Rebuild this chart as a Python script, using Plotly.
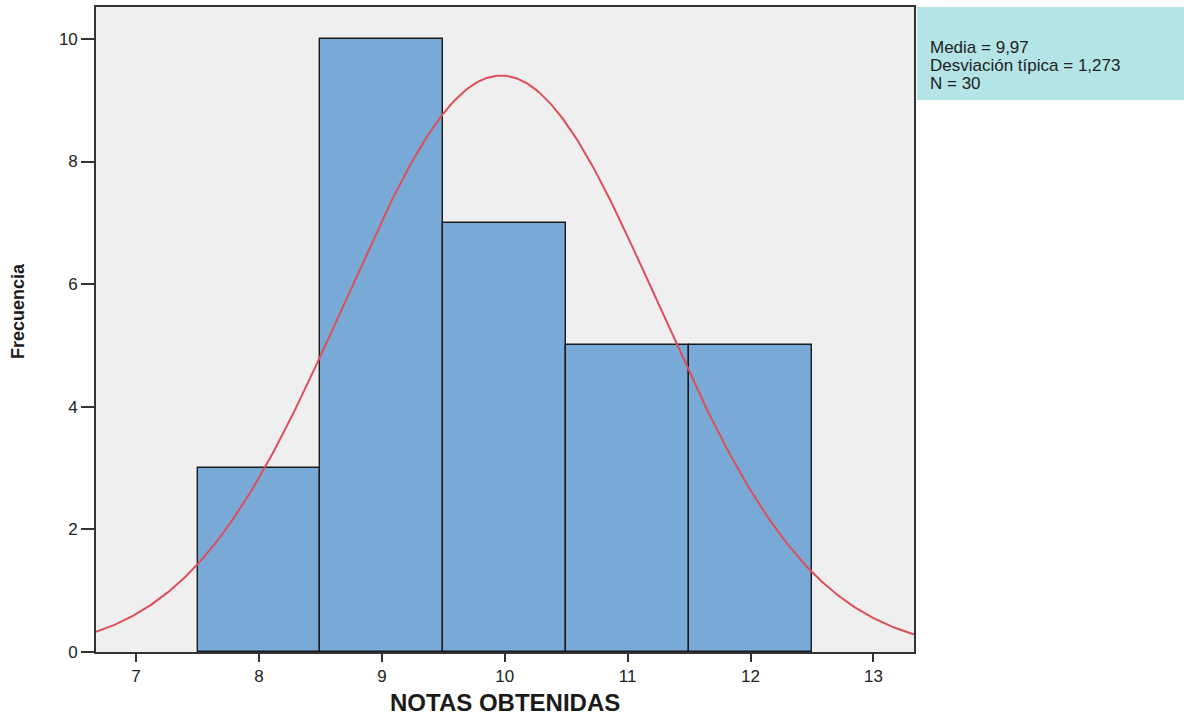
import numpy as np
import plotly.graph_objects as go

# Data
bin_centers = [8, 9, 10, 11, 12]
frequencies = [3, 10, 7, 5, 5]
mean_val = 9.97
std_val = 1.273
n_val = 30
x_ticks = [7, 8, 9, 10, 11, 12, 13]
y_ticks = [0, 2, 4, 6, 8, 10]
stat_lines = [
    "Media = 9,97",
    "Desviación típica = 1,273",
    "N = 30",
]

x_range = [6.674, 13.33]
y_range = [0, 10.52]

L, R, T, B = 96, 270, 7, 68
W, H = 1184, 720
PW, PH = W - L - R, H - T - B

fig = go.Figure()
fig.add_trace(go.Bar(
    x=bin_centers, y=frequencies, width=1,
    marker=dict(color="#79a9d7", line=dict(color="#1a1a1a", width=1.4)),
    showlegend=False, hoverinfo="x+y",
))

xs = np.linspace(x_range[0], x_range[1], 400)
ys = n_val * 1.0 / (std_val * np.sqrt(2 * np.pi)) * np.exp(-0.5 * ((xs - mean_val) / std_val) ** 2)
fig.add_trace(go.Scatter(x=xs, y=ys, mode="lines",
                         line=dict(color="#dc4f5a", width=2), showlegend=False))

fig.update_layout(
    width=W, height=H,
    margin=dict(l=L, r=R, t=T, b=B, autoexpand=False),
    paper_bgcolor="white", plot_bgcolor="#efefef",
    font=dict(family="Liberation Sans, Arial", size=17, color="#222"),
    bargap=0,
)
fig.update_xaxes(
    range=x_range, tickvals=x_ticks, ticks="outside", ticklen=8, tickwidth=1.6,
    tickcolor="#333", showgrid=False, zeroline=False, automargin=False,
    showline=True, linecolor="#333", linewidth=1.6, mirror=True,
)
fig.update_yaxes(
    range=y_range, tickvals=y_ticks, ticks="outside", ticklen=13, tickwidth=1.6,
    tickcolor="#333", showgrid=False, zeroline=False, automargin=False,
    showline=True, linecolor="#333", linewidth=1.6, mirror=True,
)

# Axis titles
fig.add_annotation(xref="paper", yref="paper", x=(505 - L) / PW, y=(T + PH - 702) / PH,
                   text="<b>NOTAS OBTENIDAS</b>", showarrow=False,
                   xanchor="center", yanchor="middle", font=dict(size=24, color="#1a1a1a"))
fig.add_annotation(xref="paper", yref="paper", x=(18 - L) / PW, y=(T + PH - 311) / PH,
                   text="<b>Frecuencia</b>", showarrow=False, textangle=-90,
                   xanchor="center", yanchor="middle", font=dict(size=18, color="#1a1a1a"))

# Stats box
fig.add_shape(type="rect", xref="paper", yref="paper",
              x0=(917 - L) / PW, x1=(1184 - L) / PW, y0=(T + PH - 100) / PH, y1=1.0,
              fillcolor="#b3e4e6", line=dict(width=0), layer="below")
for i, line in enumerate(stat_lines):
    fig.add_annotation(
        xref="paper", yref="paper", x=(928 - L) / PW, y=(T + PH - (48 + 17.5 * i)) / PH,
        xanchor="left", yanchor="middle", showarrow=False, align="left",
        text=line, font=dict(size=17, color="#222"),
    )

fig.write_html(
    "out.html",
    config={"displayModeBar": False},
    post_script="document.documentElement.style.margin='0';document.body.style.margin='0';document.body.style.overflow='hidden';",
)
